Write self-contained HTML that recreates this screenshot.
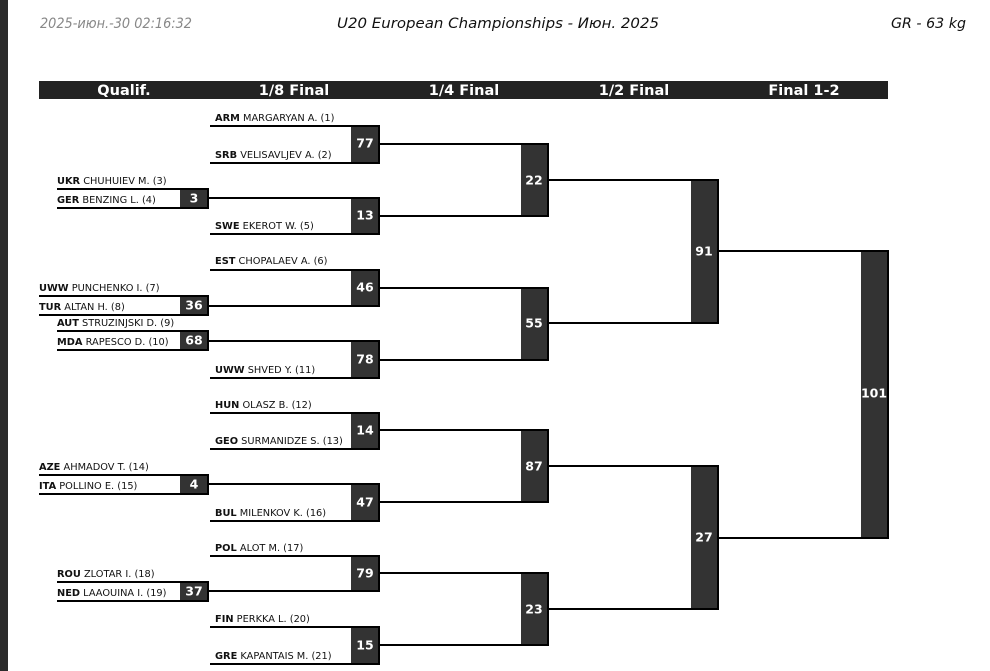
<!DOCTYPE html>
<html><head><meta charset="utf-8"><style>
html,body{margin:0;padding:0;background:#fff;width:990px;height:671px;overflow:hidden}
svg{display:block}
.n{font-family:"DejaVu Sans","Liberation Sans",sans-serif;font-size:9.8px;fill:#111}
.n tspan.b{font-weight:bold}
.num{font-family:"DejaVu Sans","Liberation Sans",sans-serif;font-size:12.5px;font-weight:bold;fill:#fff;text-anchor:middle;dominant-baseline:central}
.h{font-family:"DejaVu Sans","Liberation Sans",sans-serif;font-size:14.5px;font-weight:bold;fill:#fff;text-anchor:middle}
.t{font-family:"DejaVu Sans","Liberation Sans",sans-serif;font-size:14.5px;font-style:italic}
line{stroke:#000;stroke-width:2}
</style></head><body>
<svg width="990" height="671" viewBox="0 0 990 671" xmlns="http://www.w3.org/2000/svg">
<rect x="0" y="0" width="8" height="671" fill="#2b2b2b"/>
<text class="t" x="40" y="28" fill="#888" textLength="152" lengthAdjust="spacingAndGlyphs">2025-июн.-30 02:16:32</text>
<text class="t" x="337" y="28" fill="#111" textLength="322" lengthAdjust="spacingAndGlyphs">U20 European Championships - Июн. 2025</text>
<text class="t" x="891" y="28" fill="#111" textLength="75" lengthAdjust="spacingAndGlyphs">GR - 63 kg</text>
<rect x="39" y="81" width="849" height="18" fill="#222"/>
<text class="h" x="124" y="95">Qualif.</text>
<text class="h" x="294" y="95">1/8 Final</text>
<text class="h" x="464" y="95">1/4 Final</text>
<text class="h" x="634" y="95">1/2 Final</text>
<text class="h" x="804" y="95">Final 1-2</text>

<!-- Qualif matches -->
<g>
<rect x="180" y="189" width="28" height="19" fill="#333"/><line x1="57" y1="189" x2="208" y2="189"/><line x1="57" y1="208" x2="208" y2="208"/><line x1="208" y1="188" x2="208" y2="209"/><text class="num" x="194" y="198">3</text>
<text class="n" x="57" y="184"><tspan class="b">UKR</tspan> CHUHUIEV M. (3)</text>
<text class="n" x="57" y="203"><tspan class="b">GER</tspan> BENZING L. (4)</text>

<rect x="180" y="296" width="28" height="19" fill="#333"/><line x1="39" y1="296" x2="208" y2="296"/><line x1="39" y1="315" x2="208" y2="315"/><line x1="208" y1="295" x2="208" y2="316"/><text class="num" x="194" y="305">36</text>
<text class="n" x="39" y="291"><tspan class="b">UWW</tspan> PUNCHENKO I. (7)</text>
<text class="n" x="39" y="310"><tspan class="b">TUR</tspan> ALTAN H. (8)</text>

<rect x="180" y="331" width="28" height="19" fill="#333"/><line x1="57" y1="331" x2="208" y2="331"/><line x1="57" y1="350" x2="208" y2="350"/><line x1="208" y1="330" x2="208" y2="351"/><text class="num" x="194" y="340">68</text>
<text class="n" x="57" y="326"><tspan class="b">AUT</tspan> STRUZINJSKI D. (9)</text>
<text class="n" x="57" y="345"><tspan class="b">MDA</tspan> RAPESCO D. (10)</text>

<rect x="180" y="475" width="28" height="19" fill="#333"/><line x1="39" y1="475" x2="208" y2="475"/><line x1="39" y1="494" x2="208" y2="494"/><line x1="208" y1="474" x2="208" y2="495"/><text class="num" x="194" y="484">4</text>
<text class="n" x="39" y="470"><tspan class="b">AZE</tspan> AHMADOV T. (14)</text>
<text class="n" x="39" y="489"><tspan class="b">ITA</tspan> POLLINO E. (15)</text>

<rect x="180" y="582" width="28" height="19" fill="#333"/><line x1="57" y1="582" x2="208" y2="582"/><line x1="57" y1="601" x2="208" y2="601"/><line x1="208" y1="581" x2="208" y2="602"/><text class="num" x="194" y="591">37</text>
<text class="n" x="57" y="577"><tspan class="b">ROU</tspan> ZLOTAR I. (18)</text>
<text class="n" x="57" y="596"><tspan class="b">NED</tspan> LAAOUINA I. (19)</text>
</g>

<!-- 1/8 matches -->
<g>
<rect x="351" y="126" width="28" height="37" fill="#333"/><line x1="210" y1="126" x2="380" y2="126"/><line x1="210" y1="163" x2="380" y2="163"/><line x1="379" y1="125" x2="379" y2="164"/><text class="num" x="365" y="143">77</text>
<text class="n" x="215" y="121"><tspan class="b">ARM</tspan> MARGARYAN A. (1)</text>
<text class="n" x="215" y="158"><tspan class="b">SRB</tspan> VELISAVLJEV A. (2)</text>

<rect x="351" y="198" width="28" height="36" fill="#333"/><line x1="208" y1="198" x2="380" y2="198"/><line x1="210" y1="234" x2="380" y2="234"/><line x1="379" y1="197" x2="379" y2="235"/><text class="num" x="365" y="215">13</text>
<text class="n" x="215" y="229"><tspan class="b">SWE</tspan> EKEROT W. (5)</text>

<rect x="351" y="270" width="28" height="36" fill="#333"/><line x1="210" y1="270" x2="380" y2="270"/><line x1="208" y1="306" x2="380" y2="306"/><line x1="379" y1="269" x2="379" y2="307"/><text class="num" x="365" y="287">46</text>
<text class="n" x="215" y="264"><tspan class="b">EST</tspan> CHOPALAEV A. (6)</text>

<rect x="351" y="341" width="28" height="37" fill="#333"/><line x1="208" y1="341" x2="380" y2="341"/><line x1="210" y1="378" x2="380" y2="378"/><line x1="379" y1="340" x2="379" y2="379"/><text class="num" x="365" y="359">78</text>
<text class="n" x="215" y="373"><tspan class="b">UWW</tspan> SHVED Y. (11)</text>

<rect x="351" y="413" width="28" height="36" fill="#333"/><line x1="210" y1="413" x2="380" y2="413"/><line x1="210" y1="449" x2="380" y2="449"/><line x1="379" y1="412" x2="379" y2="450"/><text class="num" x="365" y="430">14</text>
<text class="n" x="215" y="408"><tspan class="b">HUN</tspan> OLASZ B. (12)</text>
<text class="n" x="215" y="444"><tspan class="b">GEO</tspan> SURMANIDZE S. (13)</text>

<rect x="351" y="484" width="28" height="37" fill="#333"/><line x1="208" y1="484" x2="380" y2="484"/><line x1="210" y1="521" x2="380" y2="521"/><line x1="379" y1="483" x2="379" y2="522"/><text class="num" x="365" y="502">47</text>
<text class="n" x="215" y="516"><tspan class="b">BUL</tspan> MILENKOV K. (16)</text>

<rect x="351" y="556" width="28" height="35" fill="#333"/><line x1="210" y1="556" x2="380" y2="556"/><line x1="208" y1="591" x2="380" y2="591"/><line x1="379" y1="555" x2="379" y2="592"/><text class="num" x="365" y="573">79</text>
<text class="n" x="215" y="551"><tspan class="b">POL</tspan> ALOT M. (17)</text>

<rect x="351" y="627" width="28" height="37" fill="#333"/><line x1="210" y1="627" x2="380" y2="627"/><line x1="210" y1="664" x2="380" y2="664"/><line x1="379" y1="626" x2="379" y2="665"/><text class="num" x="365" y="645">15</text>
<text class="n" x="215" y="622"><tspan class="b">FIN</tspan> PERKKA L. (20)</text>
<text class="n" x="215" y="659"><tspan class="b">GRE</tspan> KAPANTAIS M. (21)</text>
</g>

<!-- 1/4 -->
<g>
<rect x="521" y="144" width="27" height="72" fill="#333"/><line x1="379" y1="144" x2="549" y2="144"/><line x1="379" y1="216" x2="549" y2="216"/><line x1="548" y1="143" x2="548" y2="217"/><text class="num" x="534" y="180">22</text>
<rect x="521" y="288" width="27" height="72" fill="#333"/><line x1="379" y1="288" x2="549" y2="288"/><line x1="379" y1="360" x2="549" y2="360"/><line x1="548" y1="287" x2="548" y2="361"/><text class="num" x="534" y="323">55</text>
<rect x="521" y="430" width="27" height="72" fill="#333"/><line x1="379" y1="430" x2="549" y2="430"/><line x1="379" y1="502" x2="549" y2="502"/><line x1="548" y1="429" x2="548" y2="503"/><text class="num" x="534" y="466">87</text>
<rect x="521" y="573" width="27" height="72" fill="#333"/><line x1="379" y1="573" x2="549" y2="573"/><line x1="379" y1="645" x2="549" y2="645"/><line x1="548" y1="572" x2="548" y2="646"/><text class="num" x="534" y="609">23</text>
</g>

<!-- 1/2 -->
<g>
<rect x="691" y="180" width="27" height="143" fill="#333"/><line x1="548" y1="180" x2="719" y2="180"/><line x1="548" y1="323" x2="719" y2="323"/><line x1="718" y1="179" x2="718" y2="324"/><text class="num" x="704" y="251">91</text>
<rect x="691" y="466" width="27" height="143" fill="#333"/><line x1="548" y1="466" x2="719" y2="466"/><line x1="548" y1="609" x2="719" y2="609"/><line x1="718" y1="465" x2="718" y2="610"/><text class="num" x="704" y="537">27</text>
</g>

<!-- Final -->
<rect x="861" y="251" width="27" height="287" fill="#333"/><line x1="718" y1="251" x2="889" y2="251"/><line x1="718" y1="538" x2="889" y2="538"/><line x1="888" y1="250" x2="888" y2="539"/><text class="num" x="874" y="393">101</text>
</svg>
</body></html>
